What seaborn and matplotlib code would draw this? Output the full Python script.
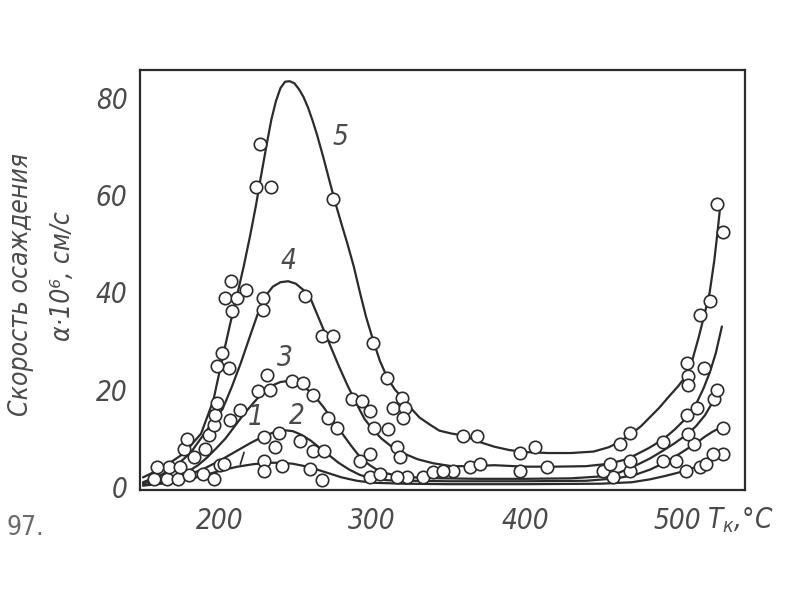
import numpy as np
import pandas as pd
import matplotlib
matplotlib.use('Agg')
import matplotlib.pyplot as plt
import seaborn as sns

sns.set_style('white')
plt.rcParams['font.family'] = ['DejaVu Sans']
plt.rcParams['font.stretch'] = 'condensed'
plt.rcParams['mathtext.fontset'] = 'dejavusans'

INK = '#2b2b2b'
TXT = '#4a4a4a'

# --- smooth curves (T, deg C -> rate a*10^6, cm/s) ---
t1 = [150, 165, 180, 192, 202, 212, 222, 232, 240, 248, 256, 264, 272, 280, 290, 300, 320, 350,
      400, 450, 470, 482, 492, 502, 510, 518, 524, 529]
v1 = [0.3, 0.8, 1.6, 2.6, 3.5, 4.2, 4.7, 5.0, 5.0, 4.8, 4.3, 3.6, 2.8, 2.0, 1.3, 0.9, 0.7, 0.6,
      0.6, 0.7, 1.0, 1.6, 2.3, 3.1, 3.9, 4.8, 5.7, 6.8]

t2 = [150, 165, 178, 190, 200, 210, 220, 228, 235, 242, 248, 254, 260, 266, 272, 278, 285, 292,
      300, 310, 325, 350, 400, 440, 460, 472, 482, 490, 498, 506, 512, 518, 523, 528]
v2 = [0.4, 1.2, 2.3, 3.8, 5.4, 7.2, 9.0, 10.3, 11.2, 11.7, 11.5, 10.7, 9.5, 8.0, 6.5, 5.0, 3.6, 2.5,
      1.8, 1.4, 1.3, 1.2, 1.2, 1.3, 1.8, 2.5, 3.6, 4.8, 6.2, 7.8, 9.0, 10.4, 11.4, 12.2]

t3 = [150, 165, 177, 186, 192, 198, 204, 210, 216, 222, 228, 234, 240, 245, 250, 256, 262, 268,
      274, 280, 286, 292, 298, 305, 315, 327, 345, 370, 400, 430, 450, 462, 473, 482, 490, 498,
      506, 512, 518, 523, 526]
v3 = [0.8, 1.8, 2.7, 4.5, 6.1, 8.0, 10.0, 12.5, 15.0, 17.2, 19.3, 20.8, 21.6, 21.8, 21.5, 20.5,
      18.8, 16.5, 13.8, 11.2, 8.6, 6.2, 4.6, 3.2, 2.4, 2.0, 1.8, 1.7, 1.7, 1.8, 2.2, 3.0, 4.5, 5.9,
      7.4, 9.0, 10.8, 12.5, 14.8, 17.5, 19.5]

t4 = [150, 162, 172, 181, 189, 196, 202, 208, 214, 220, 225, 230, 235, 240, 245, 250, 255, 260,
      266, 272, 278, 284, 290, 295, 300, 306, 312, 320, 330, 340, 352, 365, 380, 400, 420, 440,
      455, 465, 473, 481, 490, 498, 506, 512, 517, 521, 525, 529]
v4 = [1.0, 2.5, 4.5, 7.0, 10.5, 13.5, 16.0, 20.5, 25.5, 31.0, 35.5, 39.2, 41.2, 42.1, 42.3, 41.8,
      40.5, 38.5, 34.0, 29.5, 25.0, 20.8, 17.0, 14.0, 12.0, 10.0, 8.5, 7.0, 5.7, 4.9, 4.3, 4.3,
      4.5, 4.2, 4.2, 4.3, 4.8, 5.6, 6.7, 8.0, 9.7, 11.8, 14.3, 17.0, 20.3, 23.5, 27.5, 33.0]

t5 = [150, 161, 170, 177, 188, 196, 202, 207, 212, 216, 220, 224, 227, 231, 234, 237, 240, 243,
      246, 249, 252, 255, 258, 261, 264, 268, 272, 276, 280, 284, 288, 292, 296, 301, 305, 310,
      315, 320, 326, 331, 338, 344, 352, 360, 370, 380, 390, 400, 415, 430, 445, 455, 462, 469,
      476, 482, 488, 494, 500, 506, 510, 514, 518, 521, 524, 526, 528]
v5 = [2.0, 3.7, 5.5, 7.0, 11.0, 17.8, 26.5, 33.5, 40.0, 45.5, 51.5, 58.0, 63.5, 70.5, 75.5, 79.3,
      82.0, 83.3, 83.4, 83.0, 81.8, 80.2, 78.0, 75.3, 72.3, 67.8, 63.0, 58.3, 54.0, 49.8, 45.3,
      40.0, 35.0, 29.8, 26.0, 22.4, 20.0, 18.3, 16.0, 14.3, 12.8, 11.6, 11.0, 10.6, 9.3, 8.3, 7.6,
      7.2, 7.0, 7.0, 7.3, 8.2, 9.3, 10.8, 12.5, 14.4, 16.3, 18.5, 20.6, 23.0, 26.5, 31.0, 36.0,
      40.0, 46.5, 52.0, 58.0]

# --- measured points (open circles) ---
p1_t = [157, 165.5, 173.2, 180.3, 189.4, 196.4, 200.4, 202.8, 228.9, 228.9, 241, 259.5, 267.1,
        505.7, 514.4, 518.8, 529.6, 523]
p1_v = [1.6, 1.6, 1.6, 2.4, 2.7, 1.6, 4.5, 4.8, 5.4, 3.4, 4.4, 3.7, 1.4,
        3.4, 4.1, 4.8, 6.8, 6.8]

p2_t = [166.8, 174, 228.9, 238.8, 236.6, 252.9, 261.6, 268.2, 322.7, 333.5, 457.7, 490.4, 499.1,
        511, 529.6]
p2_v = [4.1, 4.1, 10.2, 11.2, 8.2, 9.5, 7.5, 7.5, 2.0, 2.0, 2.0, 5.4, 5.4,
        8.8, 12.2]

p3_t = [183.2, 190.5, 207, 213.7, 225.5, 231.4, 233.3, 247.7, 255, 261.4, 271.2, 277, 292.2,
        298.7, 298.7, 305.2, 316.1, 340, 353.1, 451.2, 468.6, 506.8, 524, 525.5]
p3_v = [6.1, 7.8, 13.7, 15.9, 19.8, 23.1, 20.0, 21.8, 21.4, 19.0, 14.3, 12.2, 5.4,
        6.8, 2.0, 2.7, 2.0, 3.1, 3.4, 3.4, 3.4, 10.9, 18.0, 20.0]

p4_t = [159, 176.7, 206, 228.8, 228.8, 256.2, 267.3, 274.5, 287, 293.3, 298.7, 300.9, 310.7,
        316.1, 318.3, 346.6, 364, 370.6, 396.7, 414.2, 455.6, 468.6, 490.4, 506, 512.4, 517.6]
p4_v = [4.1, 7.8, 24.5, 38.8, 36.4, 39.2, 31.0, 31.0, 18.0, 17.7, 15.6, 12.2, 11.9,
        8.2, 6.1, 3.4, 4.1, 4.8, 3.4, 4.1, 4.8, 5.4, 9.2, 14.9, 16.3, 24.5]

p5_t = [178.8, 193, 196.4, 197, 198.4, 198.4, 201.6, 203.4, 208, 207.8, 211.2, 217.6, 223.7,
        233.5, 226.8, 274.5, 300.6, 309.8, 313.7, 319.6, 321.6, 320.3, 359.5, 368.6, 396.7, 406.5,
        462, 468.6, 506, 507, 506.5, 514.4, 521, 529.5, 526]
p5_v = [9.8, 10.8, 12.7, 14.9, 17.3, 24.9, 27.6, 38.8, 36.1, 42.4, 38.8, 40.4, 61.6,
        61.6, 70.4, 59.2, 29.6, 22.4, 16.3, 18.4, 16.3, 14.3, 10.6, 10.6, 7.1, 8.2,
        8.8, 11.2, 25.5, 22.9, 20.9, 35.3, 38.2, 52.4, 58.2]

curve_names = ['1', '2', '3', '4', '5']
line_t = [t1, t2, t3, t4, t5]
line_v = [v1, v2, v3, v4, v5]
pts_t = [p1_t, p2_t, p3_t, p4_t, p5_t]
pts_v = [p1_v, p2_v, p3_v, p4_v, p5_v]

lines = pd.concat([pd.DataFrame({'T': t, 'v': v, 'curve': n})
                   for n, t, v in zip(curve_names, line_t, line_v)], ignore_index=True)
points = pd.concat([pd.DataFrame({'T': t, 'v': v, 'curve': n})
                    for n, t, v in zip(curve_names, pts_t, pts_v)], ignore_index=True)

fig = plt.figure(figsize=(8, 6), dpi=100)
ax = fig.add_axes([0.175, 0.1833, 0.756, 0.70])

sns.lineplot(data=lines, x='T', y='v', units='curve', estimator=None, sort=False,
             color=INK, linewidth=1.6, ax=ax, zorder=2)
sns.scatterplot(data=points, x='T', y='v', s=80, facecolor='white', edgecolor=INK,
                linewidth=1.2, ax=ax, zorder=3, legend=False)

ax.set_xlim(148, 544)
ax.set_ylim(-0.6, 85.7)
ax.set_xticks([200, 300, 400, 500])
ax.set_yticks([0, 20, 40, 60, 80])
ax.set_xlabel('')
ax.set_ylabel('')
ax.tick_params(axis='y', direction='in', length=9, width=1.3, color=INK, pad=9,
               labelsize=20, labelcolor=TXT)
ax.tick_params(axis='x', length=0, pad=12, labelsize=20, labelcolor=TXT)
for lbl in ax.get_xticklabels() + ax.get_yticklabels():
    lbl.set_fontstyle('italic')
for sp in ax.spines.values():
    sp.set_color(INK)
    sp.set_linewidth(1.6)

# curve numbers
lab_t = [245, 243, 251, 279]
lab_v = [46.5, 26.5, 14.7, 72.0]
for name, t, v in zip(['4', '3', '2', '5'], lab_t, lab_v):
    ax.text(t, v, name, fontsize=20, style='italic', color=TXT, ha='center', va='center')
ax.annotate('1', xy=(213.7, 4.7), xytext=(223.5, 14.5), fontsize=20, style='italic',
            color=TXT, ha='center', va='center',
            arrowprops=dict(arrowstyle='-', color=INK, lw=1.2, shrinkA=14, shrinkB=0))

# axis titles
fig.text(0.026, 0.525, 'Скорость осаждения', rotation=90, fontsize=19, style='italic',
         color=TXT, ha='center', va='center')
fig.text(0.079, 0.54, 'α·10⁶, см/с', rotation=90, fontsize=19, style='italic',
         color=TXT, ha='center', va='center')
fig.text(0.884, 0.133, r'$T_{к}$,°C', fontsize=20, style='italic', color=TXT,
         ha='left', va='center')
fig.text(0.008, 0.12, '97.', fontsize=19, color='#6a6a6a', ha='left', va='center')

fig.savefig('out.png', dpi=100)
